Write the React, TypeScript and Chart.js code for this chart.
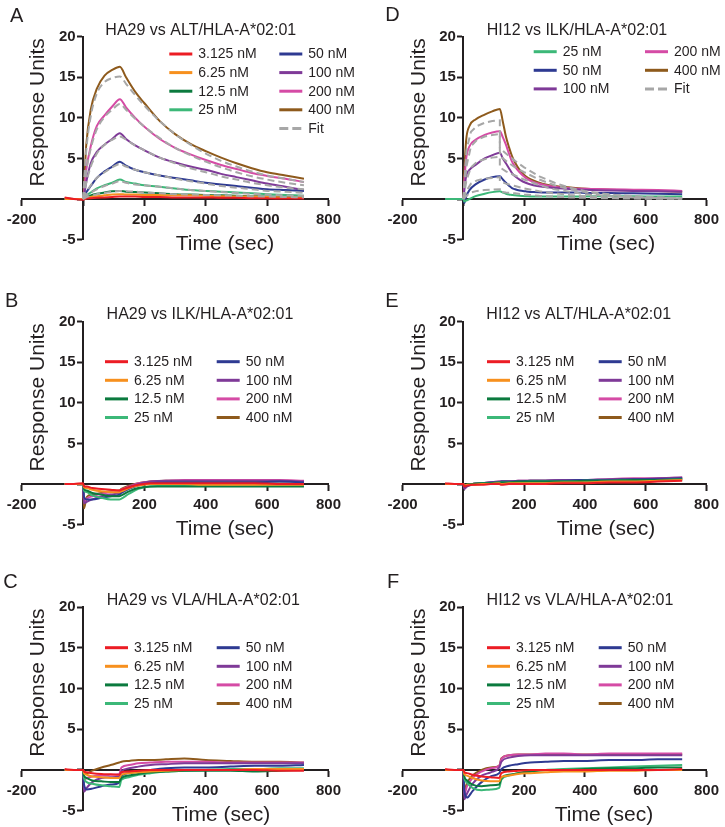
import React, { useEffect, useRef } from 'react';
import { Chart, registerables } from 'chart.js';

Chart.register(...registerables);

const FONT = '"Liberation Sans", Arial, Helvetica, sans-serif';
const INK = '#231F20';
const FIT_COLOR = '#A7A7A7';
Chart.defaults.font.family = FONT;

// ---------- shared labels / colours ----------
const CONC_LABELS = ['3.125 nM', '6.25 nM', '12.5 nM', '25 nM', '50 nM', '100 nM', '200 nM', '400 nM'];
const CONC_COLORS = ['#EC1C24', '#F7901E', '#0B7A3E', '#3CB878', '#2E3A92', '#7F3A98', '#D54BA5', '#8E5A1C'];
const D_LABELS = ['25 nM', '50 nM', '100 nM', '200 nM', '400 nM'];
const D_COLORS = ['#3CB878', '#2E3A92', '#7F3A98', '#D54BA5', '#8E5A1C'];
const X_TICK_STEP = 200;
const Y_TICK_STEP = 5;

// ---------- Panel A: HA29 vs ALT ----------
const TIME_A = [-60, -30, 0, 10, 25, 45, 70, 95, 120, 140, 170, 200, 250, 300, 350, 400, 450, 500, 550, 600, 660, 720];
const A_3p125 = [0.2, 0.0, -0.1, 0.05, 0.1, 0.15, 0.2, 0.25, 0.3, 0.3, 0.3, 0.25, 0.25, 0.2, 0.2, 0.2, 0.15, 0.15, 0.1, 0.1, 0.05, 0.05];
const A_6p25 = [0.0, 0.0, 0.0, 0.1, 0.25, 0.35, 0.45, 0.55, 0.6, 0.55, 0.55, 0.5, 0.5, 0.45, 0.45, 0.4, 0.35, 0.3, 0.3, 0.25, 0.2, 0.15];
const A_12p5 = [0.0, 0.0, 0.0, 0.2, 0.45, 0.65, 0.8, 0.95, 1.0, 0.9, 0.85, 0.8, 0.7, 0.6, 0.55, 0.5, 0.45, 0.4, 0.35, 0.3, 0.25, 0.2];
const A_25 = [0.0, 0.0, 0.0, 0.4, 0.8, 1.3, 1.7, 2.0, 2.4, 2.1, 1.9, 1.7, 1.5, 1.3, 1.1, 1.0, 0.9, 0.8, 0.7, 0.6, 0.5, 0.4];
const A_50 = [0.0, 0.0, 0.0, 0.8, 1.6, 2.6, 3.4, 4.0, 4.6, 4.1, 3.6, 3.3, 2.9, 2.6, 2.3, 2.0, 1.8, 1.6, 1.4, 1.2, 1.1, 1.0];
const A_100 = [0.0, 0.0, 0.0, 2.0, 4.4, 5.8, 6.7, 7.4, 8.1, 7.4, 6.6, 6.0, 5.1, 4.5, 4.0, 3.6, 3.1, 2.7, 2.3, 1.9, 1.5, 1.1];
const A_200 = [0.1, 0.0, 0.0, 3.5, 6.5, 9.0, 10.3, 11.4, 12.3, 11.3, 10.0, 8.9, 7.4, 6.3, 5.5, 4.8, 4.2, 3.7, 3.2, 2.85, 2.5, 2.1];
const A_400 = [0.1, 0.0, 0.0, 6.5, 11.0, 13.6, 15.2, 15.9, 16.3, 15.0, 13.2, 11.8, 9.6, 8.0, 6.8, 5.9, 5.1, 4.4, 3.8, 3.3, 2.9, 2.5];
const A_FIT_12p5 = [null, null, 0, 0.2, 0.4, 0.6, 0.75, 0.9, 1.0, 0.95, 0.9, 0.8, 0.7, 0.6, 0.55, 0.5, 0.45, 0.4, 0.35, 0.3, 0.25, 0.2];
const A_FIT_25 = [null, null, 0, 0.4, 0.8, 1.2, 1.6, 1.9, 2.2, 2.0, 1.8, 1.7, 1.5, 1.3, 1.1, 1.0, 0.85, 0.75, 0.65, 0.55, 0.45, 0.4];
const A_FIT_50 = [null, null, 0, 0.8, 1.7, 2.6, 3.3, 3.9, 4.3, 4.0, 3.6, 3.3, 2.9, 2.5, 2.2, 1.9, 1.6, 1.4, 1.2, 1.0, 0.9, 0.75];
const A_FIT_100 = [null, null, 0, 1.9, 4.0, 5.6, 6.7, 7.3, 7.7, 7.3, 6.6, 6.0, 5.1, 4.4, 3.8, 3.3, 2.8, 2.4, 2.0, 1.7, 1.4, 1.2];
const A_FIT_200 = [null, null, 0, 3.3, 6.2, 8.6, 10.1, 11.0, 11.7, 11.0, 9.9, 8.9, 7.5, 6.3, 5.4, 4.6, 3.9, 3.3, 2.8, 2.4, 2.0, 1.7];
const A_FIT_400 = [null, null, 0, 5.8, 10.2, 13.0, 14.4, 14.9, 15.1, 14.2, 12.8, 11.5, 9.6, 8.0, 6.7, 5.6, 4.7, 4.0, 3.4, 2.9, 2.5, 2.1];

// ---------- Panel D: HI12 vs ILK ----------
const TIME_D = [-60, -30, 0, 3, 9, 20, 40, 70, 95, 120, 130, 140, 150, 160, 170, 185, 205, 230, 260, 300, 360, 420, 480, 560, 640, 720];
const D_25 = [0.0, 0.0, 0.0, -0.3, -0.2, 0.0, 0.35, 0.65, 0.85, 0.95, 0.8, 0.65, 0.55, 0.5, 0.45, 0.4, 0.35, 0.3, 0.3, 0.3, 0.3, 0.35, 0.35, 0.35, 0.3, 0.3];
const D_50 = [0.0, 0.0, 0.0, -0.5, 0.3, 1.1, 1.8, 2.4, 2.7, 2.8, 2.4, 2.0, 1.65, 1.35, 1.2, 1.05, 0.95, 0.85, 0.8, 0.8, 0.8, 0.75, 0.75, 0.7, 0.65, 0.6];
const D_100 = [0.0, 0.0, 0.0, 1.0, 2.8, 3.6, 4.2, 5.0, 5.4, 5.7, 5.0, 4.4, 3.8, 3.2, 2.8, 2.4, 2.0, 1.7, 1.5, 1.35, 1.2, 1.1, 1.05, 1.0, 0.95, 0.9];
const D_200 = [0.0, 0.0, 0.0, 2.0, 4.9, 6.5, 7.3, 7.9, 8.2, 8.35, 7.6, 6.7, 5.6, 4.6, 4.0, 3.3, 2.6, 2.1, 1.8, 1.5, 1.3, 1.25, 1.2, 1.15, 1.1, 1.0];
const D_400 = [0.0, 0.0, 0.0, 3.2, 7.2, 9.0, 9.8, 10.4, 10.8, 11.1, 9.5, 7.7, 6.4, 5.3, 4.5, 3.6, 2.8, 2.3, 1.9, 1.6, 1.4, 1.25, 1.15, 1.05, 1.0, 0.9];
const TIME_D_FIT = [0, 10, 25, 45, 70, 95, 120, 120, 140, 170, 200, 250, 300, 350, 400, 450, 500, 600, 720];
const D_FIT_25 = [0, 0.4, 0.8, 1.0, 1.1, 1.15, 1.2, 0.9, 0.8, 0.7, 0.55, 0.4, 0.3, 0.2, 0.15, 0.1, 0.08, 0.04, 0.02];
const D_FIT_50 = [0, 1.0, 1.9, 2.3, 2.5, 2.6, 2.7, 2.2, 1.9, 1.6, 1.3, 0.95, 0.7, 0.5, 0.35, 0.25, 0.2, 0.1, 0.05];
const D_FIT_100 = [0, 2.3, 3.9, 4.6, 4.9, 5.1, 5.2, 3.9, 3.4, 2.9, 2.4, 1.7, 1.2, 0.9, 0.6, 0.45, 0.3, 0.15, 0.05];
const D_FIT_200 = [0, 4.0, 6.5, 7.3, 7.7, 7.9, 8.0, 5.3, 4.7, 3.9, 3.3, 2.4, 1.7, 1.2, 0.85, 0.6, 0.45, 0.2, 0.1];
const D_FIT_400 = [0, 6.0, 8.3, 9.0, 9.4, 9.6, 9.7, 6.3, 5.6, 4.7, 3.9, 2.8, 2.0, 1.4, 1.0, 0.7, 0.5, 0.25, 0.1];

// ---------- Panels B, C, E, F share one time grid ----------
const TIME_N = [-60, -30, 0, 3, 12, 30, 60, 90, 118, 125, 150, 180, 220, 270, 330, 400, 480, 560, 640, 720];

// B: HA29 vs ILK
const B_3p125 = [0.0, 0.0, 0.1, -0.3, -0.3, -0.5, -0.6, -0.7, -0.8, -0.7, -0.4, -0.1, 0.1, 0.1, 0.1, 0.1, 0.1, 0.1, 0.0, 0.0];
const B_6p25 = [0.0, 0.0, 0.0, -0.4, -0.5, -0.7, -0.9, -1.0, -1.0, -0.9, -0.5, -0.2, 0.0, 0.0, 0.0, -0.1, -0.1, -0.1, -0.1, -0.1];
const B_12p5 = [0.0, 0.0, 0.0, -0.6, -0.8, -1.1, -1.3, -1.5, -1.5, -1.4, -0.9, -0.5, -0.3, -0.3, -0.3, -0.3, -0.3, -0.3, -0.3, -0.3];
const B_25 = [0.0, 0.0, 0.0, -0.8, -1.0, -1.4, -1.7, -1.9, -1.9, -1.8, -1.2, -0.6, -0.3, -0.2, -0.2, -0.2, -0.1, -0.1, -0.1, -0.1];
const B_50 = [0.0, 0.0, 0.0, -1.6, -1.9, -1.9, -1.7, -1.5, -1.3, -1.1, -0.6, -0.2, 0.1, 0.2, 0.2, 0.2, 0.2, 0.2, 0.3, 0.2];
const B_100 = [0.0, 0.0, 0.0, -2.4, -2.2, -1.9, -1.5, -1.3, -1.1, -0.9, -0.4, 0.0, 0.3, 0.4, 0.4, 0.4, 0.4, 0.4, 0.4, 0.3];
const B_200 = [0.0, 0.0, 0.0, -2.2, -1.8, -1.5, -1.2, -1.0, -0.9, -0.7, -0.3, 0.1, 0.3, 0.4, 0.5, 0.5, 0.5, 0.5, 0.5, 0.4];
const B_400 = [0.0, 0.0, 0.0, -3.0, -1.6, -1.3, -1.1, -0.9, -0.8, -0.6, -0.2, 0.1, 0.3, 0.4, 0.4, 0.4, 0.4, 0.3, 0.3, 0.3];

// C: HA29 vs VLA
const C_3p125 = [0.1, 0.0, 0.0, -0.2, -0.3, -0.4, -0.5, -0.55, -0.6, -0.3, -0.2, -0.1, 0.0, 0.0, 0.0, 0.0, 0.0, 0.0, -0.1, -0.1];
const C_6p25 = [0.0, 0.0, 0.0, -0.4, -0.6, -0.8, -0.9, -1.0, -1.0, -0.6, -0.4, -0.3, -0.2, -0.1, 0.0, 0.0, 0.0, 0.1, 0.1, 0.1];
const C_12p5 = [0.0, 0.0, 0.0, -0.7, -1.0, -1.3, -1.4, -1.5, -1.5, -1.0, -0.7, -0.5, -0.3, -0.2, -0.1, -0.1, -0.1, -0.2, -0.1, 0.0];
const C_25 = [0.0, 0.0, 0.0, -1.0, -1.5, -1.7, -1.9, -2.0, -2.1, -1.2, -0.9, -0.6, -0.4, -0.2, -0.1, 0.0, 0.1, 0.1, 0.2, 0.2];
const C_50 = [0.0, 0.0, 0.0, -1.8, -2.4, -2.3, -2.0, -1.8, -1.6, -0.7, -0.4, -0.2, 0.0, 0.2, 0.3, 0.3, 0.4, 0.5, 0.5, 0.6];
const C_100 = [0.0, 0.0, 0.0, -2.7, -2.2, -1.5, -1.0, -0.9, -0.8, -0.2, 0.2, 0.4, 0.6, 0.7, 0.8, 0.8, 0.8, 0.8, 0.8, 0.8];
const C_200 = [0.0, 0.0, 0.0, -1.2, -1.0, -0.8, -0.7, -0.6, -0.5, 0.3, 0.6, 0.8, 0.9, 1.0, 1.0, 1.0, 0.9, 0.9, 0.9, 0.9];
const C_400 = [0.0, 0.0, 0.0, -0.3, -0.4, -0.1, 0.3, 0.6, 0.9, 1.0, 1.1, 1.2, 1.2, 1.3, 1.4, 1.2, 1.1, 1.0, 1.0, 0.9];

// E: HI12 vs ALT
const E_3p125 = [0.1, 0.0, 0.0, -0.3, -0.2, -0.1, -0.1, 0.0, 0.0, -0.1, 0.0, 0.0, 0.0, 0.0, 0.1, 0.1, 0.2, 0.2, 0.3, 0.4];
const E_6p25 = [0.0, 0.0, 0.0, -0.2, -0.1, -0.1, 0.0, 0.0, 0.1, 0.0, 0.1, 0.1, 0.1, 0.1, 0.2, 0.2, 0.3, 0.3, 0.4, 0.5];
const E_12p5 = [0.0, 0.0, 0.0, -0.2, -0.1, 0.0, 0.1, 0.1, 0.2, 0.2, 0.2, 0.3, 0.3, 0.3, 0.3, 0.4, 0.4, 0.5, 0.5, 0.6];
const E_25 = [0.0, 0.0, 0.0, -0.2, -0.1, 0.0, 0.1, 0.1, 0.2, 0.2, 0.2, 0.2, 0.3, 0.3, 0.3, 0.4, 0.4, 0.5, 0.5, 0.6];
const E_50 = [0.0, 0.0, 0.0, -0.3, -0.2, 0.0, 0.1, 0.2, 0.2, 0.3, 0.3, 0.3, 0.4, 0.4, 0.4, 0.5, 0.5, 0.6, 0.6, 0.7];
const E_100 = [0.0, 0.0, 0.0, -0.6, -0.3, -0.1, 0.1, 0.2, 0.3, 0.3, 0.3, 0.4, 0.4, 0.4, 0.5, 0.5, 0.6, 0.6, 0.7, 0.8];
const E_200 = [0.0, 0.0, 0.0, -0.5, -0.3, 0.0, 0.1, 0.2, 0.3, 0.3, 0.3, 0.4, 0.4, 0.4, 0.5, 0.5, 0.6, 0.7, 0.7, 0.8];
const E_400 = [0.0, 0.0, 0.0, -0.4, -0.2, 0.0, 0.1, 0.2, 0.2, 0.3, 0.3, 0.3, 0.4, 0.4, 0.4, 0.5, 0.5, 0.6, 0.6, 0.7];

// F: HI12 vs VLA
const F_3p125 = [0.1, 0.0, 0.0, -0.3, -0.4, -0.6, -0.8, -0.9, -1.0, -0.4, -0.2, -0.1, 0.0, 0.0, 0.0, 0.0, 0.0, 0.0, 0.0, 0.1];
const F_6p25 = [0.0, 0.0, 0.0, -0.5, -0.7, -1.0, -1.3, -1.4, -1.4, -0.9, -0.7, -0.5, -0.4, -0.3, -0.2, -0.2, -0.1, -0.1, 0.0, 0.0];
const F_12p5 = [0.0, 0.0, 0.0, -0.8, -1.3, -1.8, -2.0, -1.9, -1.8, -1.0, -0.6, -0.4, -0.2, 0.0, 0.0, 0.1, 0.2, 0.2, 0.3, 0.3];
const F_25 = [0.0, 0.0, 0.0, -1.0, -1.6, -2.2, -2.5, -2.4, -2.2, -1.2, -0.7, -0.4, -0.2, 0.0, 0.1, 0.2, 0.3, 0.4, 0.5, 0.6];
const F_50 = [0.0, 0.0, 0.0, -2.5, -3.4, -2.6, -1.5, -0.8, -0.4, 0.1, 0.5, 0.7, 0.9, 1.0, 1.1, 1.1, 1.2, 1.2, 1.3, 1.3];
const F_100 = [0.0, 0.0, 0.0, -3.6, -2.9, -1.7, -0.7, -0.3, 0.3, 1.0, 1.5, 1.7, 1.8, 1.8, 1.8, 1.8, 1.8, 1.8, 1.8, 1.8];
const F_200 = [0.0, 0.0, 0.0, -3.0, -2.0, -1.0, -0.2, 0.2, 0.5, 1.3, 1.8, 1.9, 1.9, 2.0, 2.0, 1.9, 2.0, 2.0, 2.0, 2.0];
const F_400 = [0.0, 0.0, 0.0, -2.5, -1.6, -0.7, 0.0, 0.3, 0.5, 1.4, 1.8, 1.9, 1.9, 1.9, 1.9, 1.9, 1.9, 1.9, 1.9, 1.9];

// ---------- panel layout ----------
type Pad = { left: number; right: number; top: number; bottom: number };
type PanelCfg = {
  letter: string;
  title: string;
  left: number;
  top: number;
  w: number;
  h: number;
  pad: Pad;
  time: number[];
  series: number[][];
  labels: string[];
  colors: string[];
  fitTime?: number[];
  fits?: (number | null)[][];
  fitSmooth?: boolean;
  letterX: number;
  letterY: number;
  titleX: number;
  titleY: number;
  yTitleX: number;
  xTitleX: number;
  legX1: number;
  legX2: number;
  legY0: number;
};

const PAD_L_ROW: Pad = { left: 21.7, right: 33.5, top: 36.7, bottom: 45.4 };
const PAD_R_ROW: Pad = { left: 40.6, right: 16.2, top: 36.7, bottom: 45.4 };
const PAD_L_LAST: Pad = { left: 21.7, right: 33.5, top: 37, bottom: 16.4 };
const PAD_R_LAST: Pad = { left: 40.6, right: 16.2, top: 37, bottom: 16.4 };

const PANELS: PanelCfg[] = [
  {
    letter: 'A', title: 'HA29 vs ALT/HLA-A*02:01', left: 0, top: 0, w: 362, h: 285, pad: PAD_L_ROW,
    time: TIME_A, series: [A_3p125, A_6p25, A_12p5, A_25, A_50, A_100, A_200, A_400],
    labels: CONC_LABELS, colors: CONC_COLORS,
    fitTime: TIME_A, fits: [A_FIT_12p5, A_FIT_25, A_FIT_50, A_FIT_100, A_FIT_200, A_FIT_400], fitSmooth: true,
    letterX: 10, letterY: 21.7, titleX: 200.8, titleY: 35, yTitleX: 38, xTitleX: 225,
    legX1: 169.3, legX2: 279.3, legY0: 54,
  },
  {
    letter: 'D', title: 'HI12 vs ILK/HLA-A*02:01', left: 362, top: 0, w: 363, h: 285, pad: PAD_R_ROW,
    time: TIME_D, series: [D_25, D_50, D_100, D_200, D_400],
    labels: D_LABELS, colors: D_COLORS,
    fitTime: TIME_D_FIT, fits: [D_FIT_25, D_FIT_50, D_FIT_100, D_FIT_200, D_FIT_400], fitSmooth: false,
    letterX: 23.3, letterY: 20.7, titleX: 215, titleY: 35, yTitleX: 57.5, xTitleX: 244,
    legX1: 171.7, legX2: 283, legY0: 51.7,
  },
  {
    letter: 'B', title: 'HA29 vs ILK/HLA-A*02:01', left: 0, top: 285, w: 362, h: 285, pad: PAD_L_ROW,
    time: TIME_N, series: [B_3p125, B_6p25, B_12p5, B_25, B_50, B_100, B_200, B_400],
    labels: CONC_LABELS, colors: CONC_COLORS,
    letterX: 5, letterY: 21.7, titleX: 200, titleY: 34.3, yTitleX: 38, xTitleX: 225,
    legX1: 105, legX2: 216.7, legY0: 76.7,
  },
  {
    letter: 'E', title: 'HI12 vs ALT/HLA-A*02:01', left: 362, top: 285, w: 363, h: 285, pad: PAD_R_ROW,
    time: TIME_N, series: [E_3p125, E_6p25, E_12p5, E_25, E_50, E_100, E_200, E_400],
    labels: CONC_LABELS, colors: CONC_COLORS,
    letterX: 23.3, letterY: 21.7, titleX: 216.7, titleY: 34.3, yTitleX: 57.5, xTitleX: 244,
    legX1: 125, legX2: 236.7, legY0: 76.7,
  },
  {
    letter: 'C', title: 'HA29 vs VLA/HLA-A*02:01', left: 0, top: 570, w: 362, h: 257, pad: PAD_L_LAST,
    time: TIME_N, series: [C_3p125, C_6p25, C_12p5, C_25, C_50, C_100, C_200, C_400],
    labels: CONC_LABELS, colors: CONC_COLORS,
    letterX: 3.3, letterY: 18.3, titleX: 203.3, titleY: 35, yTitleX: 38, xTitleX: 221,
    legX1: 105, legX2: 216.7, legY0: 77.7,
  },
  {
    letter: 'F', title: 'HI12 vs VLA/HLA-A*02:01', left: 362, top: 570, w: 363, h: 257, pad: PAD_R_LAST,
    time: TIME_N, series: [F_3p125, F_6p25, F_12p5, F_25, F_50, F_100, F_200, F_400],
    labels: CONC_LABELS, colors: CONC_COLORS,
    letterX: 25, letterY: 18.3, titleX: 218, titleY: 35, yTitleX: 57.5, xTitleX: 242,
    legX1: 125, legX2: 236.7, legY0: 77.7,
  },
];

function makeDecor(p: PanelCfg) {
  return {
    id: 'decor' + p.letter,
    afterDraw(chart: any) {
      const ctx: CanvasRenderingContext2D = chart.ctx;
      const ca = chart.chartArea;
      ctx.save();
      ctx.fillStyle = INK;
      ctx.textAlign = 'left';
      ctx.textBaseline = 'alphabetic';
      ctx.font = `20px ${FONT}`;
      ctx.fillText(p.letter, p.letterX, p.letterY);
      ctx.textAlign = 'center';
      ctx.font = `16px ${FONT}`;
      ctx.fillText(p.title, p.titleX, p.titleY);
      ctx.font = `21px ${FONT}`;
      ctx.fillText('Time (sec)', p.xTitleX, ca.bottom + 10.5);
      ctx.save();
      ctx.translate(p.yTitleX, ca.top + 75.6);
      ctx.rotate(-Math.PI / 2);
      ctx.textBaseline = 'middle';
      ctx.fillText('Response Units', 0, 0);
      ctx.restore();

      const items = p.labels.map((l, i) => ({ label: l, color: p.colors[i], dash: false }));
      if (p.fits) items.push({ label: 'Fit', color: FIT_COLOR, dash: true });
      const n1 = Math.ceil(p.labels.length / 2);
      ctx.font = `14px ${FONT}`;
      ctx.textAlign = 'left';
      ctx.textBaseline = 'middle';
      items.forEach((it, k) => {
        const col = k < n1 ? 0 : 1;
        const row = col === 0 ? k : k - n1;
        const x = col === 0 ? p.legX1 : p.legX2;
        const y = p.legY0 + row * 18.6;
        ctx.beginPath();
        ctx.strokeStyle = it.color;
        ctx.lineWidth = 3;
        ctx.setLineDash(it.dash ? [9, 4] : []);
        ctx.moveTo(x, y);
        ctx.lineTo(x + 23, y);
        ctx.stroke();
        ctx.setLineDash([]);
        ctx.fillStyle = INK;
        ctx.fillText(it.label, x + 29, y + 0.5);
      });
      ctx.restore();
    },
  };
}

function Panel({ cfg }: { cfg: PanelCfg }) {
  const ref = useRef<HTMLCanvasElement>(null);
  useEffect(() => {
    if (!ref.current) return;
    const datasets: any[] = cfg.series.map((vals, i) => ({
      label: cfg.labels[i],
      data: cfg.time.map((t, k) => ({ x: t, y: vals[k] })),
      borderColor: cfg.colors[i],
      backgroundColor: cfg.colors[i],
      borderWidth: 2,
      pointRadius: 0,
      cubicInterpolationMode: 'monotone',
      fill: false,
      order: 1 + i,
    }));
    if (cfg.fits && cfg.fitTime) {
      cfg.fits.forEach((vals) => {
        datasets.push({
          label: 'Fit',
          data: cfg.fitTime!.map((t, k) => ({ x: t, y: vals[k] })),
          borderColor: FIT_COLOR,
          borderWidth: 2,
          borderDash: [7, 4],
          pointRadius: 0,
          cubicInterpolationMode: cfg.fitSmooth ? 'monotone' : 'default',
          tension: 0,
          fill: false,
          spanGaps: false,
          order: 0,
        });
      });
    }
    const tickFont = { family: FONT, size: 15, weight: 'bold' as const };
    const chart = new Chart(ref.current, {
      type: 'line',
      data: { datasets },
      plugins: [makeDecor(cfg)],
      options: {
        responsive: false,
        animation: false,
        devicePixelRatio: 1,
        layout: { padding: cfg.pad },
        plugins: { legend: { display: false }, tooltip: { enabled: false }, title: { display: false } },
        scales: {
          x: {
            type: 'linear',
            min: -200,
            max: 800,
            position: { y: 0 } as any,
            afterFit: (s: any) => { s.height = 0; },
            grid: { display: true, drawOnChartArea: false, drawTicks: true, tickLength: 6, tickWidth: 2, tickColor: INK, color: INK },
            border: { display: true, color: INK, width: 2 },
            ticks: {
              stepSize: X_TICK_STEP,
              autoSkip: false,
              maxRotation: 0,
              minRotation: 0,
              padding: 6,
              color: INK,
              font: tickFont,
              callback: (v: any) => (Number(v) === 0 ? '' : String(v)),
            },
          },
          y: {
            type: 'linear',
            min: -5,
            max: 20,
            position: { x: 0 } as any,
            afterFit: (s: any) => { s.width = 0; },
            grid: { display: true, drawOnChartArea: false, drawTicks: true, tickLength: 5, tickWidth: 2, tickColor: INK, color: INK },
            border: { display: true, color: INK, width: 2 },
            ticks: {
              stepSize: Y_TICK_STEP,
              autoSkip: false,
              color: INK,
              font: tickFont,
              callback: (v: any) => (Number(v) === 0 ? '' : `${v}\u2002`),
            },
          },
        },
      } as any,
    });
    return () => chart.destroy();
  }, [cfg]);
  return (
    <canvas
      ref={ref}
      width={cfg.w}
      height={cfg.h}
      style={{ position: 'absolute', left: cfg.left, top: cfg.top, width: cfg.w, height: cfg.h, display: 'block' }}
    />
  );
}

export default function App() {
  return (
    <div
      style={{
        position: 'fixed',
        left: 0,
        top: 0,
        width: 725,
        height: 827,
        background: '#ffffff',
        overflow: 'hidden',
      }}
    >
      {PANELS.map((p) => (
        <Panel key={p.letter} cfg={p} />
      ))}
    </div>
  );
}
